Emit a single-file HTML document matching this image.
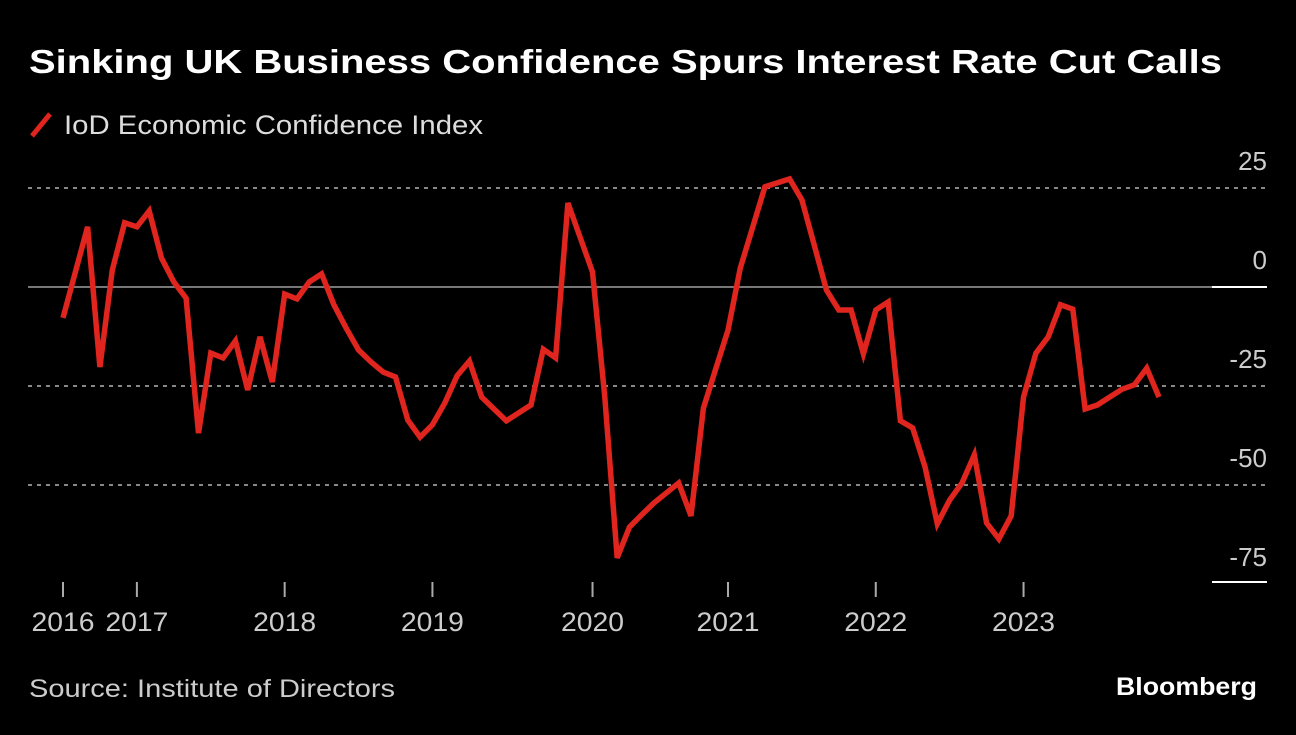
<!DOCTYPE html>
<html><head><meta charset="utf-8"><style>
body{margin:0;background:#000;width:1296px;height:730px;overflow:hidden;font-family:"Liberation Sans",sans-serif}
</style></head><body>
<svg width="1296" height="730" xmlns="http://www.w3.org/2000/svg">
<text x="29" y="73" fill="#fff" font-size="33" font-weight="bold" textLength="1193" lengthAdjust="spacingAndGlyphs">Sinking UK Business Confidence Spurs Interest Rate Cut Calls</text>
<line x1="32" y1="136" x2="50" y2="114" stroke="#e0241e" stroke-width="5"/>
<text x="64" y="134" fill="#ddd" font-size="27" textLength="419" lengthAdjust="spacingAndGlyphs">IoD Economic Confidence Index</text>
<g id="grid"></g><g id="xaxis"></g>
<path id="line" fill="none" stroke="#e0241e" stroke-width="5.5" stroke-linejoin="miter"/>
<text x="29" y="697" fill="#ccc" font-size="25" textLength="366" lengthAdjust="spacingAndGlyphs">Source: Institute of Directors</text>
<text x="1257" y="695" fill="#fff" font-size="25" font-weight="bold" text-anchor="end" textLength="141" lengthAdjust="spacingAndGlyphs">Bloomberg</text>
</svg>
<script>
const values=[-7.8,3.7,15.2,-20.2,4.3,16.2,15.2,19.2,7.3,1.3,-2.8,-36.9,-16.7,-17.9,-13.6,-26,-12.6,-24,-1.8,-3,1.3,3.3,-4.5,-10.4,-15.9,-18.9,-21.5,-22.7,-33.6,-37.9,-34.8,-29.3,-22.4,-18.7,-27.8,-30.8,-33.8,-31.8,-29.8,-15.7,-17.9,21.2,12.5,3.8,-27.8,-68.4,-60.6,-57.5,-54.5,-52,-49.5,-57.8,-30.6,-20.7,-10.9,4.8,15,25.3,26.3,27.3,22,10.6,-0.8,-5.8,-5.8,-16.9,-5.8,-3.8,-33.8,-35.6,-45.4,-59.8,-53.8,-49.5,-42.4,-59.6,-63.6,-57.8,-27.8,-16.7,-12.6,-4.5,-5.6,-30.8,-29.8,-27.8,-25.8,-24.7,-20.5,-27.8];
const yTicks=[25,0,-25,-50,-75];
const xTickIdx=[0,6,18,30,43,54,66,78];
const xTickLabels=["2016","2017","2018","2019","2020","2021","2022","2023"];
const NS="http://www.w3.org/2000/svg";
const x=i=>63+i*(1159-63)/(values.length-1);
const y=v=>287-v*3.96;
const grid=document.getElementById('grid'),xa=document.getElementById('xaxis');
function mk(tag,attrs,parent){const e=document.createElementNS(NS,tag);for(const k in attrs)e.setAttribute(k,attrs[k]);parent.appendChild(e);return e;}
yTicks.forEach(t=>{
  const gy=y(t);
  if(t===0){
    const l=mk('line',{x1:28,x2:1212,y1:gy,y2:gy,stroke:'#777','stroke-width':2},grid);
    
    
    const w=mk('line',{x1:1212,x2:1267,y1:gy,y2:gy,stroke:'#fff','stroke-width':2},grid);
    
    
  } else if(t===-75){
    const w=mk('line',{x1:1212,x2:1267,y1:582,y2:582,stroke:'#fff','stroke-width':2},grid);
    
    
  } else {
    const l=mk('line',{x1:28,x2:1267,y1:gy,y2:gy,stroke:'#888','stroke-width':2,'stroke-dasharray':'4 5'},grid);
    
    
  }
  const tx=mk('text',{x:1267,y:gy-18,fill:'#ccc','font-size':26,'text-anchor':'end'},grid);
  tx.textContent=t<0?'-'+Math.abs(t):String(t);
  
  
});
xTickIdx.forEach((idx,k)=>{
  const px=x(idx);
  const l=mk('line',{x1:px,x2:px,y1:582,y2:597,stroke:'#aaa','stroke-width':2},xa);
  
  
  const t=mk('text',{x:px,y:631,fill:'#ccc','font-size':27,'text-anchor':'middle',textLength:63,lengthAdjust:'spacingAndGlyphs'},xa);
  t.textContent=xTickLabels[k];
  
  
});
document.getElementById('line').setAttribute('d',values.map((v,i)=>(i?'L':'M')+x(i).toFixed(1)+','+y(v).toFixed(1)).join(''));
</script>
</body></html>
